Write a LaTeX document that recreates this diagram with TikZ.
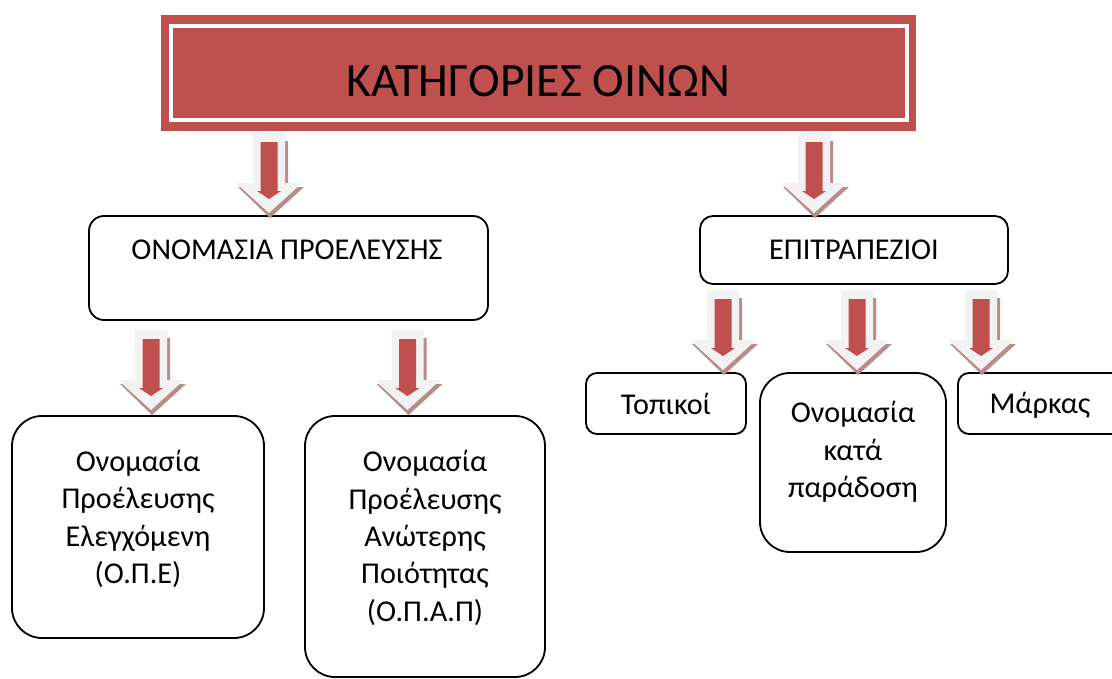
\documentclass[tikz,border=0pt]{standalone}
\usepackage{fontspec}
\setmainfont{Carlito}
\usetikzlibrary{positioning}
\newdimen\pxu \pxu=0.025cm
\definecolor{winered}{RGB}{192,80,77}
\definecolor{arrgray}{RGB}{242,242,242}
\definecolor{arrshade}{RGB}{185,140,140}

\begin{document}
\begin{tikzpicture}[
    x=1\pxu, y=-1\pxu,
    font=\fontsize{21.5}{26.6}\selectfont,
    cat/.style={draw, line width=1.3pt, align=center, inner sep=0pt},
    sq/.style={cat, rounded corners=11\pxu},
    tall/.style={cat, rounded corners=30\pxu},
    txt/.style={align=center, inner sep=0pt},
    blockarrow/.pic={
      \fill[arrshade] (-14,8) -- (19,8) -- (19,54) -- (35,54) -- (1,85)
                      -- (-31,54) -- (-14,54) -- cycle;
      \fill[arrgray] (-16,0) -- (16,0) -- (16,50) -- (33,50) -- (0,80)
                     -- (-33,50) -- (-16,50) -- cycle;
      \fill[winered] (-8.5,9) -- (8.5,9) -- (8.5,58) -- (12,58) -- (0,66)
                     -- (-12,58) -- (-8.5,58) -- cycle;
    },
  ]
  \useasboundingbox (0,0) rectangle (1112,678);

  %% ---- title ---------------------------------------------------------
  \node[fill=winered, minimum width=755\pxu, minimum height=116\pxu,
        inner sep=0pt] (T) at (538.5,73) {};
  \draw[white, line width=3pt] (171,26) rectangle (907,120);
  \node[txt, font=\fontsize{34}{40}\selectfont] (Tt) at (538.5,81)
    {ΚΑΤΗΓΟΡΙΕΣ ΟΙΝΩΝ};

  %% ---- second level --------------------------------------------------
  \node[cat, rounded corners=15\pxu, minimum width=399\pxu,
        minimum height=104\pxu] (ON) at (288.5,268) {};
  \node[txt] (ONt) at (287,250) {ΟΝΟΜΑΣΙΑ ΠΡΟΕΛΕΥΣΗΣ};
  \node[cat, rounded corners=13\pxu, minimum width=308\pxu,
        minimum height=68\pxu] (EP) at (854,250) {ΕΠΙΤΡΑΠΕΖΙΟΙ};

  %% ---- third level ---------------------------------------------------
  \node[tall, minimum width=252\pxu, minimum height=222\pxu]
    (OPE) at (138,527) {};
  \node[txt] (OPEt) at (138,519)
    {Ονομασία\\ Προέλευσης\\ Ελεγχόμενη\\ (Ο.Π.Ε)};
  \node[tall, minimum width=240\pxu, minimum height=261\pxu]
    (OPAP) at (425,546.5) {};
  \node[txt] (OPAPt) at (425,538)
    {Ονομασία\\ Προέλευσης\\ Ανώτερης\\ Ποιότητας\\ (Ο.Π.Α.Π)};
  \node[sq, minimum width=160\pxu, minimum height=61\pxu]
    (TP) at (666,403.5) {Τοπικοί};
  \node[tall, minimum width=186\pxu, minimum height=179\pxu]
    (KP) at (853,462.5) {};
  \node[txt] (KPt) at (853,452) {Ονομασία\\ κατά\\ παράδοση};
  \node[sq, minimum width=170\pxu, minimum height=61\pxu]
    (MK) at (1043,403.5) {};
  \node[txt] (MKt) at (1040,405) {Μάρκας};

  %% ---- block arrows --------------------------------------------------
  \pic at (269,133) {blockarrow};
  \pic at (814,133) {blockarrow};
  \pic at (151,330) {blockarrow};
  \pic at (407.5,330) {blockarrow};
  \pic at (723,290) {blockarrow};
  \pic at (857,290) {blockarrow};
  \pic at (981,290) {blockarrow};

\end{tikzpicture}
\end{document}
